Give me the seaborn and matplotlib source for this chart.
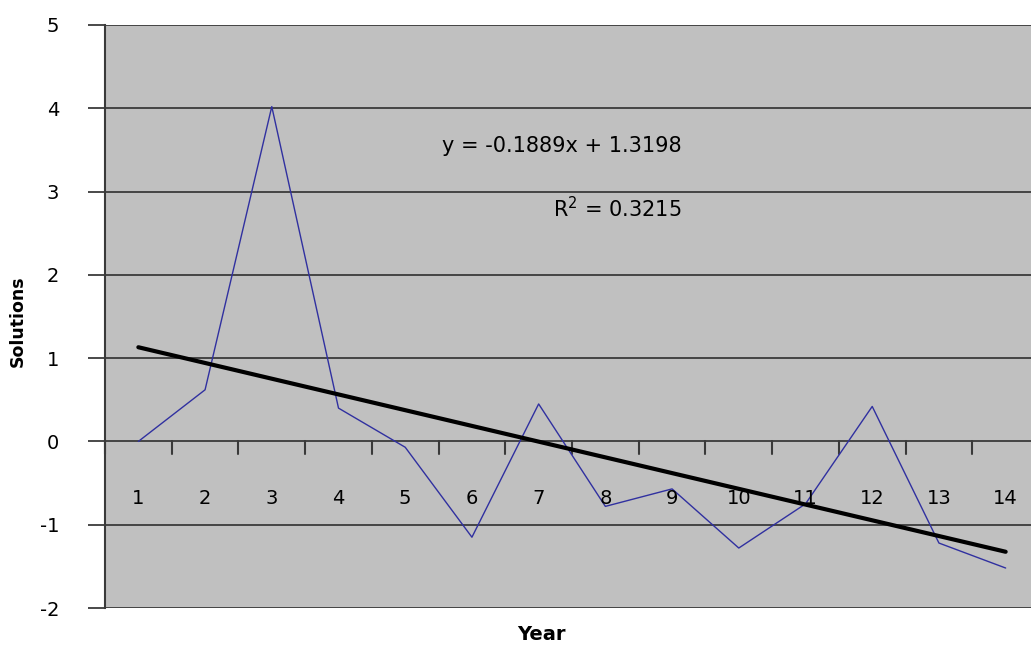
import numpy as np
import pandas as pd
import matplotlib
matplotlib.use("Agg")
import matplotlib.pyplot as plt
import seaborn as sns

# values
years = list(range(1, 15))
solutions = [0.0, 0.62, 4.02, 0.4, -0.07, -1.15, 0.45, -0.78, -0.57, -1.28, -0.75, 0.42, -1.22, -1.52]
slope = -0.1889
intercept = 1.3198
r_squared = 0.3215

df = pd.DataFrame({"Year": years, "Solutions": solutions})
trend = pd.DataFrame({"Year": years, "Trend": [slope * x + intercept for x in years]})

sns.set_style("white", {"axes.facecolor": "#c0c0c0"})
plt.rcParams["font.family"] = ["DejaVu Sans"]
plt.rcParams["text.color"] = "black"

fig = plt.figure(figsize=(10.31, 6.45), dpi=100)
ax = fig.add_axes([105 / 1031, 37 / 645, 934 / 1031, 583 / 645])

# horizontal gridlines
for yv in range(-2, 6):
    ax.axhline(yv, color="#3a3a3a", lw=1.3, zorder=1)

sns.lineplot(data=df, x="Year", y="Solutions", ax=ax, color="#3030a0", lw=1.0, zorder=3)
sns.lineplot(data=trend, x="Year", y="Trend", ax=ax, color="black", lw=3.0, zorder=4)

ax.set_xlim(0.5, 14.5)
ax.set_ylim(-2, 5)

# category axis drawn at y = 0
for b in np.arange(0.5, 14.5, 1.0):
    ax.plot([b, b], [0, -0.15], color="#3a3a3a", lw=1.5, zorder=2, clip_on=False)
for x in years:
    ax.text(x, -0.69, str(x), ha="center", va="center", fontsize=14, color="black", zorder=5)

ax.set_xticks([])
ax.set_yticks(range(-2, 6))
ax.set_yticklabels([str(v) for v in range(-2, 6)], fontsize=14, color="black")
ax.tick_params(axis="y", length=12, width=1.3, color="#3a3a3a", pad=21, left=True)

for side in ["top", "right", "bottom"]:
    ax.spines[side].set_visible(False)
ax.spines["left"].set_color("#3a3a3a")
ax.spines["left"].set_linewidth(1.5)

ax.text(9.14, 3.55, f"y = {slope:.4f}x + {intercept:.4f}",
        ha="right", va="center", fontsize=15, color="black", zorder=5)
ax.text(9.14, 2.8, f"R$^2$ = {r_squared:.4f}", ha="right", va="center", fontsize=15,
        color="black", zorder=5)

ax.set_xlabel("")
ax.set_ylabel("")
fig.text(18 / 1031, 1 - 321 / 645, "Solutions", rotation=90, ha="center", va="center",
         fontsize=12.5, fontweight="bold", color="black")
fig.text(541 / 1031, 1 - 635 / 645, "Year", ha="center", va="center", fontsize=14,
         fontweight="bold", color="black")

fig.savefig("out.png", dpi=100)
